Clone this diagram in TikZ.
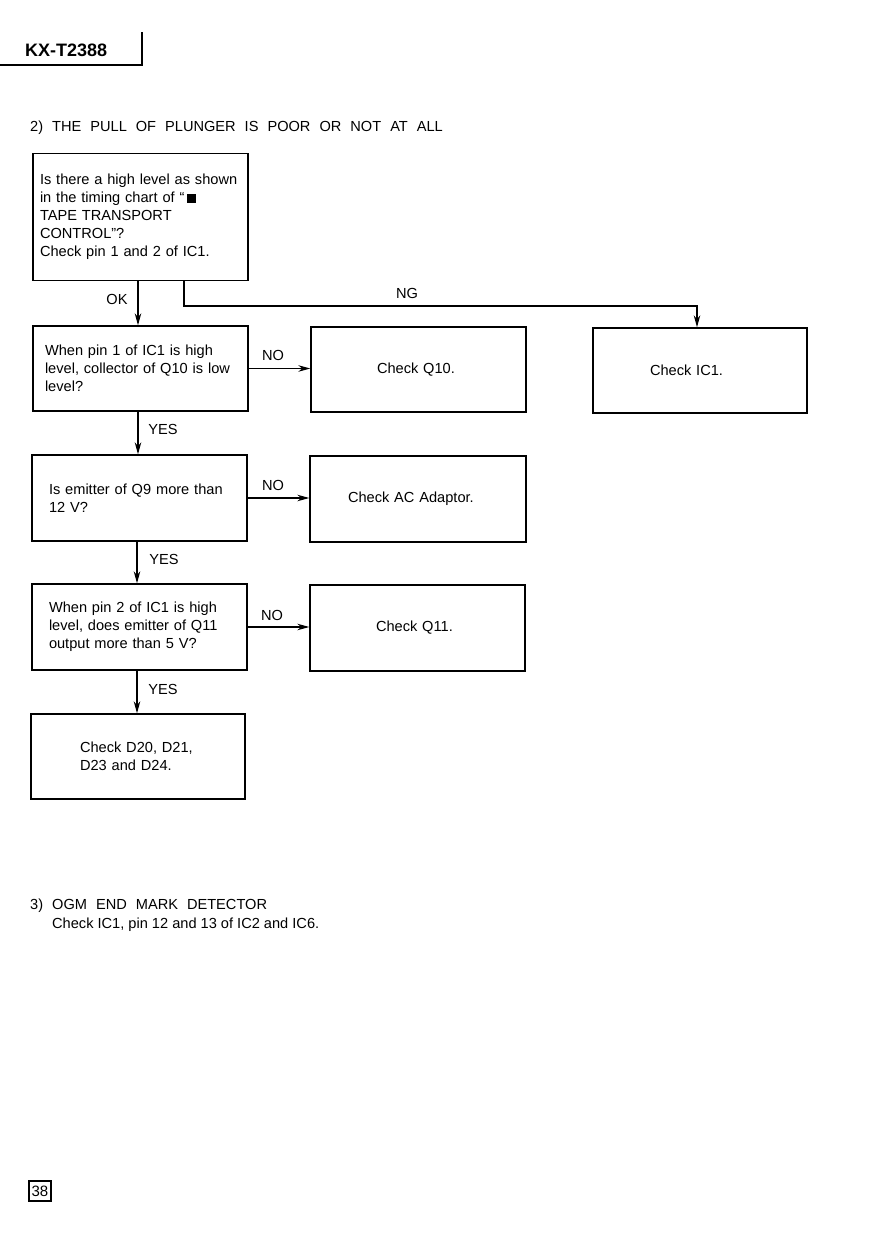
\documentclass[tikz,border=0pt]{standalone}
\usepackage{fontspec}
\setmainfont{Liberation Sans}
\usetikzlibrary{arrows.meta}
\tikzset{
  txt/.style={font=\fontsize{14.6}{18}\selectfont, inner sep=0pt},
  box/.style={draw, line width=1.4pt, rectangle, minimum width=215pt, minimum height=86pt,
              inner ysep=0pt, font=\fontsize{14.6}{18}\selectfont, align=left},
  arr/.style={line width=1.1pt, -{Stealth[length=12pt,width=6.5pt]}},
  lbl/.style={font=\fontsize{14.6}{18}\selectfont, inner sep=0pt},
}
\begin{document}
\begin{tikzpicture}[x=1pt,y=-1pt]
\useasboundingbox (0,0) rectangle (893,1260);

% header
\node[anchor=base west, inner sep=0pt, font=\fontsize{18}{20}\bfseries] (hdr) at (25,57) {KX-T2388};
\coordinate (hl) at (0,65);
\coordinate (hc) at (142,65);
\coordinate (ht) at (142,32);
\draw[line width=1.1pt] (hl) -- (hc) -- (ht);

% title
\node[txt, anchor=base west] (title) at (30,132) {\spaceskip=9pt\relax 2) THE PULL OF PLUNGER IS POOR OR NOT AT ALL};

% boxes
\node[box, minimum height=127pt, inner xsep=7pt, text width=201pt] (b1) at (140.5,217)
  {Is there a high level as shown\\in the timing chart of ``\,\rule{9pt}{9pt}\\TAPE TRANSPORT\\CONTROL''?\\Check pin 1 and 2 of IC1.};
\node[box, minimum height=85pt, inner xsep=12pt, text width=191pt] (b2) at (140.5,368.5)
  {When pin 1 of IC1 is high\\level, collector of Q10 is low\\level?};
\node[box, inner xsep=17pt, text width=181pt] (b3) at (139.5,498)
  {Is emitter of Q9 more than\\12 V?};
\node[box, inner xsep=17pt, text width=181pt] (b4) at (139.5,627)
  {When pin 2 of IC1 is high\\level, does emitter of Q11\\output more than 5 V?};
\node[box, minimum width=214pt, minimum height=85pt, inner xsep=49pt, text width=116pt] (b5) at (138,756.5)
  {Check D20, D21,\\D23 and D24.};

\node[box, minimum height=85pt, inner xsep=66pt, text width=83pt] (q10) at (418.5,369.5) {Check Q10.};
\node[box, minimum width=214pt, minimum height=85pt, inner xsep=57pt, text width=100pt] (ic1) at (700,370.5) {Check IC1.};
\node[box, minimum width=216pt, inner xsep=38pt, text width=140pt] (ac) at (418,499) {Check AC Adaptor.};
\node[box, inner xsep=66pt, text width=83pt] (q11) at (417.5,628) {Check Q11.};

% connectors
\draw[arr] ([xshift=-2.5pt]b1.south) -- ([xshift=-2.5pt]b1.south |- b2.north);
\coordinate (ngc) at (697,306);
\draw[arr] ([xshift=43.5pt]b1.south) |- (ngc) -- (ngc |- ic1.north);
\draw[arr] (b2.east) -- (b2.east -| q10.west);
\draw[arr] (b3.east) -- (b3.east -| ac.west);
\draw[arr] (b4.east) -- (b4.east -| q11.west);
\draw[arr] ([xshift=-2.5pt]b2.south) -- ([xshift=-2.5pt]b2.south |- b3.north);
\draw[arr] ([xshift=-2.5pt]b3.south) -- ([xshift=-2.5pt]b3.south |- b4.north);
\draw[arr] ([xshift=-2.5pt]b4.south) -- ([xshift=-2.5pt]b4.south |- b5.north);

% labels
\node[lbl] (lok) at (117,299) {OK};
\node[lbl] (lng) at (407,293) {NG};
\node[lbl] (lno1) at (273,355) {NO};
\node[lbl] (lno2) at (273,485) {NO};
\node[lbl] (lno3) at (272,615) {NO};
\node[lbl] (lyes1) at (163,429) {YES};
\node[lbl] (lyes2) at (164,559) {YES};
\node[lbl] (lyes3) at (163,689) {YES};

% section 3
\node[txt, anchor=base west] (s3) at (30,909) {\spaceskip=9pt\relax 3) OGM END MARK DETECTOR};
\node[txt, anchor=base west] (s3b) at (52,928) {Check IC1, pin 12 and 13 of IC2 and IC6.};

% page number
\node[draw, line width=1.1pt, minimum width=22pt, minimum height=20pt, inner sep=0pt,
      font=\fontsize{15}{18}\selectfont] (pg) at (40,1191) {38};
\end{tikzpicture}
\end{document}
